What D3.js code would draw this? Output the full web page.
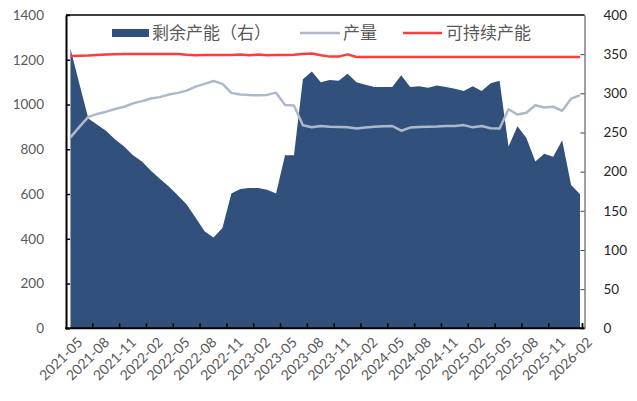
<!DOCTYPE html>
<html>
<head>
<meta charset="utf-8">
<script src="https://cdn.jsdelivr.net/npm/d3@7"></script>
<style>
  body { margin: 0; background: #fff; }
  svg { display: block; }
</style>
</head>
<body>
<div id="chart"></div>
<script>
// monthly categories
const months = [
    "2021-05","2021-06","2021-07","2021-08","2021-09","2021-10","2021-11","2021-12",
    "2022-01","2022-02","2022-03","2022-04","2022-05","2022-06","2022-07","2022-08",
    "2022-09","2022-10","2022-11","2022-12","2023-01","2023-02","2023-03","2023-04",
    "2023-05","2023-06","2023-07","2023-08","2023-09","2023-10","2023-11","2023-12",
    "2024-01","2024-02","2024-03","2024-04","2024-05","2024-06","2024-07","2024-08",
    "2024-09","2024-10","2024-11","2024-12","2025-01","2025-02","2025-03","2025-04",
    "2025-05","2025-06","2025-07","2025-08","2025-09","2025-10","2025-11","2025-12",
    "2026-01","2026-02"
];

const tickLabels = [
    "2021-05","2021-08","2021-11","2022-02","2022-05","2022-08","2022-11",
    "2023-02","2023-05","2023-08","2023-11","2024-02","2024-05","2024-08",
    "2024-11","2025-02","2025-05","2025-08","2025-11","2026-02"
];

// 剩余产能（右） - right axis
const spare = [
    357, 312, 268, 260, 252, 241, 232, 221, 213, 201,
    191, 181, 170, 158, 141, 124, 116, 128, 172, 178,
    179, 179, 177, 172, 221, 221, 318, 328, 314, 317,
    316, 325, 314, 311, 308, 308, 308, 323, 308, 309,
    307, 310, 308, 306, 303, 309, 303, 313, 316, 232,
    258, 243, 213, 223, 219, 240, 183, 171
];

// 产量 - left axis
const output = [
    853, 900, 945, 958, 968, 980, 990, 1005, 1015, 1027,
    1033, 1045, 1052, 1062, 1080, 1092, 1105, 1092, 1052, 1045,
    1042, 1041, 1043, 1053, 998, 996, 907, 898, 904, 901,
    900, 898, 893, 897, 901, 903, 904, 883, 897, 899,
    901, 902, 904, 904, 908, 898, 904, 894, 893, 979,
    955, 963, 997, 987, 990, 972, 1026, 1042
];

// 可持续产能 - left axis
const capacity = [
    1217, 1218, 1219, 1221, 1223, 1225, 1226, 1226, 1226, 1226,
    1226, 1226, 1226, 1222, 1220, 1221, 1221, 1221, 1221, 1224,
    1220, 1223, 1220, 1221, 1221, 1222, 1226, 1228, 1220, 1214,
    1214, 1224, 1212, 1212, 1212, 1212, 1212, 1212, 1212, 1212,
    1212, 1212, 1212, 1212, 1212, 1212, 1212, 1212, 1212, 1212,
    1212, 1212, 1212, 1212, 1212, 1212, 1212, 1212
];

const leftTicks = [0, 200, 400, 600, 800, 1000, 1200, 1400];
const rightTicks = [0, 50, 100, 150, 200, 250, 300, 350, 400];

const width = 637, height = 401;
const plot = { left: 66, right: 584.5, top: 15, bottom: 328.3 };
const numFont = "Lato, 'Liberation Sans', sans-serif";
const cjkFont = "'Noto Sans CJK SC', sans-serif";
const gray = "#595959";

const svg = d3.select("#chart").append("svg")
    .attr("width", width)
    .attr("height", height);

const x = d3.scaleBand().domain(months).range([plot.left, plot.right]);
const cx = m => x(m) + x.bandwidth() / 2;
const yL = d3.scaleLinear().domain([0, 1400]).range([plot.bottom, plot.top]);
const yR = d3.scaleLinear().domain([0, 400]).range([plot.bottom, plot.top]);

// area
const area = d3.area()
    .x((d, i) => cx(months[i]))
    .y0(yR(0))
    .y1(d => yR(d));

svg.append("path")
    .datum(spare)
    .attr("d", area)
    .attr("fill", "#31507b");

const line = yScale => d3.line()
    .x((d, i) => cx(months[i]))
    .y(d => yScale(d));

svg.append("path")
    .datum(output)
    .attr("d", line(yL))
    .attr("fill", "none")
    .attr("stroke", "#adb9ca")
    .attr("stroke-width", 2.5)
    .attr("stroke-linejoin", "round");

svg.append("path")
    .datum(capacity)
    .attr("d", line(yL))
    .attr("fill", "none")
    .attr("stroke", "#ff3b3b")
    .attr("stroke-width", 2.5)
    .attr("stroke-linejoin", "round");

// top frame
svg.append("line")
    .attr("x1", plot.left).attr("x2", plot.right)
    .attr("y1", plot.top).attr("y2", plot.top)
    .attr("stroke", "#000").attr("stroke-width", 1.5);

// left axis
const gl = svg.append("g")
    .attr("transform", `translate(${plot.left},0)`)
    .call(d3.axisLeft(yL).tickValues(leftTicks).tickFormat(d3.format("d"))
        .tickSize(-4).tickPadding(22).tickSizeOuter(0));
gl.select(".domain").attr("stroke", "#000").attr("stroke-width", 2);
gl.selectAll(".tick line").attr("stroke", "#000").attr("stroke-width", 1.5);
gl.selectAll("text").attr("font-family", numFont).attr("font-size", 13.5).attr("fill", gray);

// right axis
const gr = svg.append("g")
    .attr("transform", `translate(${plot.right},0)`)
    .call(d3.axisRight(yR).tickValues(rightTicks).tickFormat(d3.format("d"))
        .tickSize(-4).tickPadding(19).tickSizeOuter(0));
gr.select(".domain").attr("stroke", "#404040").attr("stroke-width", 1);
gr.selectAll(".tick line").attr("stroke", "#404040");
gr.selectAll("text").attr("font-family", numFont).attr("font-size", 13.5).attr("fill", "#262626");

// bottom axis: ticks between categories every 3 months
const tickIdx = d3.range(0, months.length, 3);
svg.append("line")
    .attr("x1", plot.left - 1).attr("x2", plot.right)
    .attr("y1", plot.bottom).attr("y2", plot.bottom)
    .attr("stroke", "#000").attr("stroke-width", 2);
svg.append("g").selectAll("line")
    .data(tickIdx.concat([months.length - 1]).slice(1))
    .join("line")
    .attr("x1", i => i === months.length - 1 ? plot.right - 2 : x(months[i]))
    .attr("x2", i => i === months.length - 1 ? plot.right - 2 : x(months[i]))
    .attr("y1", plot.bottom).attr("y2", plot.bottom - 5)
    .attr("stroke", "#000").attr("stroke-width", 1.5);

svg.append("g").selectAll("text")
    .data(tickLabels)
    .join("text")
    .attr("transform", d => `translate(${cx(d) + 6},${plot.bottom + 8}) rotate(-45)`)
    .attr("text-anchor", "end")
    .attr("dy", "0.7em")
    .attr("font-family", numFont)
    .attr("font-size", 14)
    .attr("fill", gray)
    .text(d => d);

// legend
const lg = svg.append("g").attr("font-family", cjkFont).attr("font-size", 17).attr("fill", gray);
lg.append("rect").attr("x", 112).attr("y", 29).attr("width", 37).attr("height", 8).attr("fill", "#31507b");
lg.append("text").attr("x", 152).attr("y", 33).attr("dy", "0.35em").text("剩余产能（右）");
lg.append("line").attr("x1", 300).attr("x2", 340).attr("y1", 33).attr("y2", 33)
    .attr("stroke", "#adb9ca").attr("stroke-width", 2.5);
lg.append("text").attr("x", 343).attr("y", 33).attr("dy", "0.35em").text("产量");
lg.append("line").attr("x1", 403).attr("x2", 442).attr("y1", 33).attr("y2", 33)
    .attr("stroke", "#ff3b3b").attr("stroke-width", 2.5);
lg.append("text").attr("x", 446).attr("y", 33).attr("dy", "0.35em").text("可持续产能");
</script>
</body>
</html>
